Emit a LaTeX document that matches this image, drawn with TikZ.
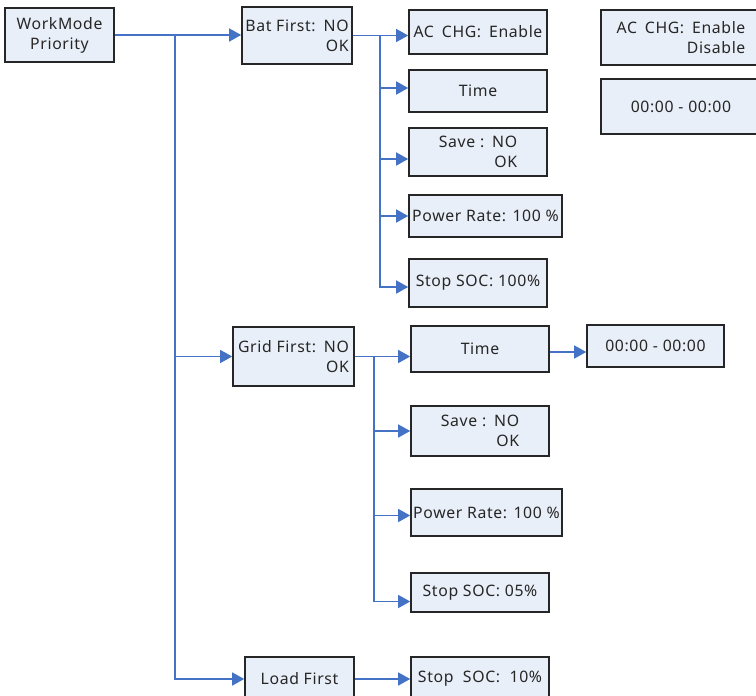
\documentclass[tikz,border=0pt]{standalone}
\usepackage{fontspec}
\setmainfont{Noto Sans}[LetterSpace=4]
\usetikzlibrary{arrows.meta,positioning}
\definecolor{linkblue}{RGB}{68,114,196}
\definecolor{boxfill}{RGB}{233,239,248}
\definecolor{boxline}{RGB}{38,38,38}

\begin{document}
\begin{tikzpicture}[x=1pt, y=-1pt]
\tikzstyle{menu} = [rectangle, draw=boxline, line width=1.6pt, fill=boxfill, inner sep=1pt, text=boxline, font=\fontsize{15.8}{20}\selectfont, minimum width=138pt, minimum height=44pt]
\tikzstyle{arrow} = [draw=linkblue, line width=1.3pt, -{Triangle[length=12pt,width=13pt]}]

\useasboundingbox (0,0) rectangle (756,696);

% root and the three modes
\node (WorkMode) [menu, minimum width=109pt, minimum height=54pt, align=center] at (59.5,35) {WorkMode\\Priority};
\node (BatFirst) [menu, minimum width=110pt, minimum height=57pt, align=right] at (297,35.5) {Bat First:\hspace{0.5em}NO\\OK};
\node (GridFirst) [menu, minimum width=121pt, minimum height=59pt, align=right] at (293.5,356.5) {Grid First:\hspace{0.5em}NO\\OK};
\node (LoadFirst) [menu, minimum width=109pt, minimum height=44pt] at (299.5,679) {Load First};

% bat first settings
\node (BatAcChg) [menu] at (478,32) {AC\hspace{0.2em} CHG:\hspace{0.2em} Enable};
\node (BatTime) [menu, minimum height=42pt] at (478,91) {Time};
\node (BatSave) [menu, minimum height=48pt, align=right] at (478,152) {Save :\hspace{0.5em}NO\\OK};
\node (BatPower) [menu, minimum width=153pt, minimum height=42pt] at (485.5,216) {Power Rate: 100 \%};
\node (BatStop) [menu, minimum height=48pt] at (478,283) {Stop SOC: 100\%};

% option screens
\node (AcChgOpt) [menu, minimum width=160pt, minimum height=55pt, align=right] at (681,37.5) {AC\hspace{0.2em} CHG:\hspace{0.2em} Enable\\Disable};
\node (BatRange) [menu, minimum width=160pt, minimum height=55pt] at (681,106.5) {00:00 - 00:00};

% grid first settings
\node (GridTime) [menu, minimum height=46pt] at (480,349) {Time};
\node (GridRange) [menu, minimum width=137pt, minimum height=42pt] at (655.5,346) {00:00 - 00:00};
\node (GridSave) [menu, minimum height=50pt, align=right] at (480,431) {Save :\hspace{0.5em}NO\\OK};
\node (GridPower) [menu, minimum width=151pt, minimum height=47pt] at (486.5,512.5) {Power Rate: 100 \%};
\node (GridStop) [menu, minimum height=39pt] at (480,592.5) {Stop SOC: 05\%};

% load first settings
\node (LoadStop) [menu, minimum height=44pt] at (480,679) {Stop\hspace{0.3em} SOC:\hspace{0.3em} 10\%};

\coordinate (Trunk) at (175,35);
\coordinate (BatFork) at (380,35.5);
\coordinate (GridFork) at (374,356.5);

\draw [arrow] (WorkMode.east) -- (WorkMode.east -| BatFirst.west);
\draw [arrow] (Trunk) |- (GridFirst.west);
\draw [arrow] (Trunk) |- (LoadFirst.west);

\draw [arrow] (BatFirst.east) -- (BatFirst.east -| BatAcChg.west);
\draw [arrow] (BatFork) |- ([yshift=3pt]BatTime.west);
\draw [arrow] (BatFork) |- ([yshift=-7pt]BatSave.west);
\draw [arrow] (BatFork) |- (BatPower.west);
\draw [arrow] (BatFork) |- ([yshift=-4pt]BatStop.west);

\draw [arrow] (GridFirst.east) -- (GridFirst.east -| GridTime.west);
\draw [arrow] ([yshift=-3pt]GridTime.east) -- ([yshift=-3pt]GridTime.east -| GridRange.west);
\draw [arrow] (GridFork) |- (GridSave.west);
\draw [arrow] (GridFork) |- ([yshift=-3pt]GridPower.west);
\draw [arrow] (GridFork) |- ([yshift=-9pt]GridStop.west);

\draw [arrow] (LoadFirst.east) -- (LoadStop.west);
\end{tikzpicture}
\end{document}
